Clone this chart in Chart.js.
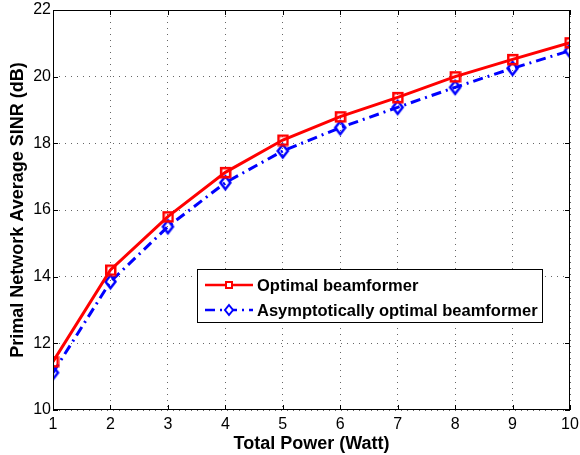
<!DOCTYPE html>
<html><head><meta charset="utf-8">
<script src="https://cdn.jsdelivr.net/npm/chart.js@4"></script>
<style>html,body{margin:0;padding:0;background:#fff}#wrap{width:580px;height:455px;position:relative}</style>
</head><body><div id="wrap"><canvas id="c" width="580" height="455"></canvas></div>
<script>
const totalPower = [1,2,3,4,5,6,7,8,9,10];
const optimalSINR = [11.45,14.2,15.8,17.13,18.1,18.8,19.38,20.0,20.52,21.02];
const asymptoticSINR = [11.12,13.85,15.5,16.82,17.77,18.47,19.08,19.68,20.25,20.78];
const yTicks = [10,12,14,16,18,20,22];
const seriesNames = ['Optimal beamformer','Asymptotically optimal beamformer'];

const FONT = '"Liberation Sans", Arial, sans-serif';

function squareMarker(side, color, lw) {
  const s = side + lw + 2, c = document.createElement('canvas');
  c.width = s; c.height = s;
  const g = c.getContext('2d');
  g.strokeStyle = color; g.lineWidth = lw;
  g.strokeRect((s - side) / 2, (s - side) / 2, side, side);
  return c;
}
function diamondMarker(w, h, color, lw) {
  const cw = w + lw * 2 + 2, ch = h + lw * 2 + 2, c = document.createElement('canvas');
  c.width = cw; c.height = ch;
  const g = c.getContext('2d');
  g.strokeStyle = color; g.lineWidth = lw; g.lineJoin = 'miter';
  g.beginPath();
  g.moveTo(cw / 2, (ch - h) / 2); g.lineTo((cw + w) / 2, ch / 2);
  g.lineTo(cw / 2, (ch + h) / 2); g.lineTo((cw - w) / 2, ch / 2); g.closePath();
  g.stroke();
  return c;
}

const framePlugin = {
  id: 'frame',
  afterDraw(chart) {
    const {ctx, chartArea: a, scales: {x, y}} = chart;
    ctx.save();
    ctx.strokeStyle = '#000'; ctx.lineWidth = 1;
    ctx.strokeRect(a.left + 0.5, a.top + 0.5, a.right - a.left - 1, a.bottom - a.top - 1);
    ctx.beginPath();
    totalPower.forEach(v => { const px = Math.round(x.getPixelForValue(v)) + 0.5;
      ctx.moveTo(px, a.bottom); ctx.lineTo(px, a.bottom - 5);
      ctx.moveTo(px, a.top); ctx.lineTo(px, a.top + 5); });
    yTicks.forEach(v => { const py = Math.round(y.getPixelForValue(v)) + 0.5;
      ctx.moveTo(a.left, py); ctx.lineTo(a.left + 5, py);
      ctx.moveTo(a.right, py); ctx.lineTo(a.right - 5, py); });
    ctx.stroke();
    // legend
    const bx = 197, by = 269, bw = 345, bh = 53;
    ctx.fillStyle = '#fff'; ctx.fillRect(bx, by, bw, bh);
    ctx.strokeStyle = '#000'; ctx.lineWidth = 1; ctx.strokeRect(bx + 0.5, by + 0.5, bw, bh);
    const ds = chart.data.datasets;
    const rows = [by + 16, by + 41];
    ds.forEach((d, i) => {
      const yy = rows[i];
      ctx.strokeStyle = d.borderColor; ctx.lineWidth = 2.5;
      ctx.setLineDash(d.borderDash || []);
      ctx.beginPath(); ctx.moveTo(bx + 8, yy); ctx.lineTo(bx + 56, yy); ctx.stroke();
      ctx.setLineDash([]);
      ctx.lineWidth = 2;
      const cx = bx + 32;
      ctx.beginPath();
      if (i === 0) { ctx.rect(cx - 3, yy - 3, 6, 6); }
      else { ctx.moveTo(cx, yy - 5); ctx.lineTo(cx + 4, yy); ctx.lineTo(cx, yy + 5); ctx.lineTo(cx - 4, yy); ctx.closePath(); }
      ctx.fillStyle = '#fff'; ctx.fill(); ctx.stroke();
      ctx.fillStyle = '#000'; ctx.font = 'bold 16.5px ' + FONT;
      ctx.textBaseline = 'middle'; ctx.textAlign = 'left';
      ctx.fillText(d.label, bx + 60, yy + 1);
    });
    ctx.restore();
  }
};

new Chart(document.getElementById('c'), {
  type: 'line',
  data: {
    datasets: [
      { label: seriesNames[0], data: totalPower.map((p, i) => ({x: p, y: optimalSINR[i]})),
        borderColor: '#ff0000', backgroundColor: '#fff', borderWidth: 3,
        pointStyle: squareMarker(9, '#ff0000', 2.5), pointRadius: 6, tension: 0 },
      { label: seriesNames[1], data: totalPower.map((p, i) => ({x: p, y: asymptoticSINR[i]})),
        borderColor: '#0000ff', backgroundColor: '#fff', borderWidth: 3, borderDash: [10, 5, 2, 5],
        pointStyle: diamondMarker(10, 13, '#0000ff', 2.5), pointRadius: 7, tension: 0 }
    ]
  },
  options: {
    responsive: false, animation: false, devicePixelRatio: 1,
    layout: { padding: { top: 10, right: 8, left: 0, bottom: 0 } },
    plugins: { legend: { display: false }, tooltip: { enabled: false } },
    scales: {
      x: { type: 'linear', min: 1, max: 10,
        afterFit(s) { s.height = 45; s.paddingLeft = 0; s.paddingRight = 0; },
        afterBuildTicks(s) { s.ticks = totalPower.map(v => ({value: v})); },
        ticks: { color: '#000', font: { family: FONT, size: 16 }, padding: 5, maxRotation: 0 },
        grid: { color: '#666', lineWidth: 1, drawTicks: false },
        border: { display: false, dash: [1, 5] },
        title: { display: true, text: 'Total Power (Watt)', color: '#000', font: { family: FONT, size: 18, weight: 'bold' }, padding: { top: 0, bottom: 0 } } },
      y: { min: 10, max: 22,
        afterFit(s) { s.width = 53; s.paddingTop = 0; s.paddingBottom = 0; },
        afterBuildTicks(s) { s.ticks = yTicks.map(v => ({value: v})); },
        ticks: { color: '#000', font: { family: FONT, size: 16 }, padding: 2 },
        grid: { color: '#666', lineWidth: 1, drawTicks: false },
        border: { display: false, dash: [1, 5] },
        title: { display: true, text: 'Primal Network Average SINR (dB)', color: '#000', font: { family: FONT, size: 18, weight: 'bold' }, padding: { top: 7, bottom: 0 } } }
    }
  },
  plugins: [framePlugin]
});
</script></body></html>
